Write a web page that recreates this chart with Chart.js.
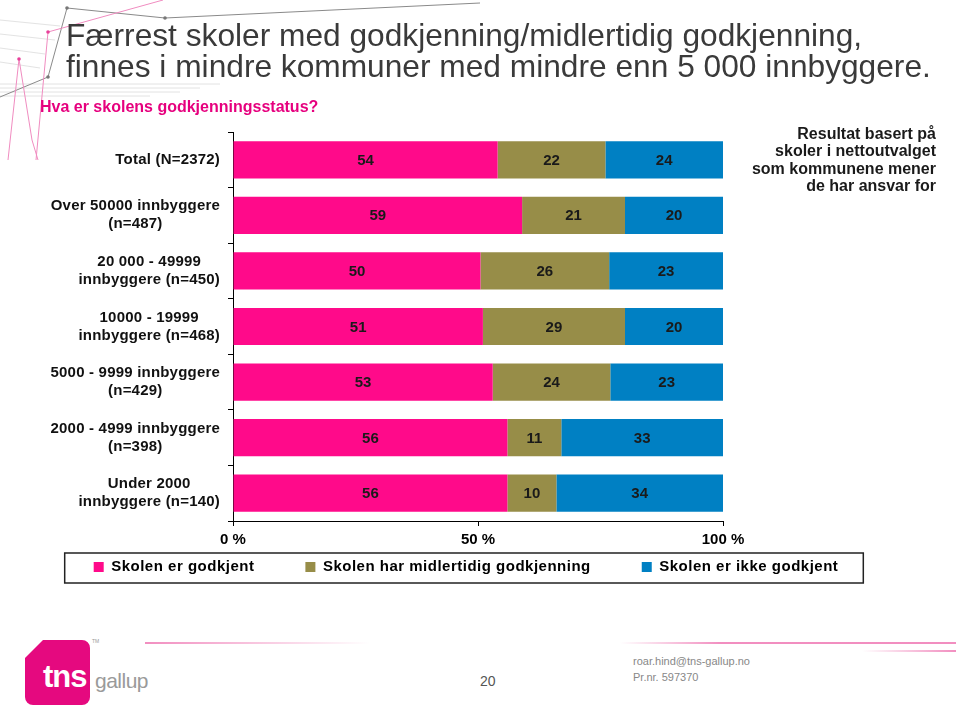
<!DOCTYPE html>
<html>
<head>
<meta charset="utf-8">
<script src="https://cdn.jsdelivr.net/npm/chart.js@4.4.1/dist/chart.umd.min.js"></script>
<style>
  html,body{margin:0;padding:0;background:#fff;}
  body{width:960px;height:710px;overflow:hidden;position:relative;font-family:Arial,"Liberation Sans",sans-serif;}
  #deco{position:absolute;left:0;top:0;z-index:0;}
  #chartBox{position:absolute;left:0;top:0;width:960px;height:630px;z-index:1;}
  .txt{position:absolute;z-index:2;white-space:nowrap;}
  #title{left:66px;top:20.4px;font-size:31.7px;line-height:31px;color:#3a3a3a;}
  #subtitle{left:40px;top:99px;font-size:16px;line-height:16px;font-weight:bold;color:#E6007E;}
  #note{right:24px;top:125px;font-size:16px;line-height:17.3px;font-weight:bold;color:#1a1a1a;text-align:right;}
  #page{left:480px;top:673px;font-size:14px;line-height:16px;color:#555;}
  #contact{left:633px;top:654px;font-size:11px;line-height:15.5px;color:#888;}
  #logo{position:absolute;left:25px;top:640px;width:65px;height:65px;background:#E5097F;z-index:2;
        border-radius:4px 8px 8px 8px;clip-path:polygon(18px 0,100% 0,100% 100%,0 100%,0 18px);}
  #tns{left:43px;top:660px;font-size:31px;line-height:34px;font-weight:bold;color:#fff;letter-spacing:-1px;}
  #gallup{left:95px;top:669px;font-size:21px;line-height:24px;color:#9a9a9a;letter-spacing:-0.5px;}
  #tm{left:92px;top:638px;font-size:5px;color:#999;}
  .pl{position:absolute;height:2px;z-index:0;}
</style>
</head>
<body>
<svg id="deco" width="480" height="160">
  <g stroke="#d8d8d8" stroke-width="1" opacity="0.7">
    <line x1="0" y1="84" x2="220" y2="84"/>
    <line x1="0" y1="88" x2="200" y2="88"/>
    <line x1="0" y1="92" x2="180" y2="92"/>
    <line x1="0" y1="96" x2="150" y2="96"/>
    <line x1="0" y1="20" x2="60" y2="26"/>
    <line x1="0" y1="34" x2="55" y2="40"/>
    <line x1="0" y1="48" x2="45" y2="54"/>
    <line x1="0" y1="62" x2="40" y2="68"/>
  </g>
  <polyline points="0,97 48,77 67,8 165,18 480,3" fill="none" stroke="#8a8a8a" stroke-width="1"/>
  <circle cx="67" cy="8" r="1.8" fill="#777"/>
  <circle cx="165" cy="18" r="1.8" fill="#777"/>
  <circle cx="48" cy="77" r="1.8" fill="#777"/>
  <g stroke="#f08cc0" stroke-width="1" fill="none">
    <polyline points="163,0 48,32 36,160"/>
    <polyline points="8,160 19,59 32,140 38,160"/>
  </g>
  <circle cx="48" cy="32" r="1.8" fill="#e8409a"/>
  <circle cx="19" cy="59" r="1.8" fill="#e8409a"/>
</svg>

<div id="chartBox"><canvas id="c" width="960" height="630"></canvas></div>

<div class="txt" id="title">Færrest skoler med godkjenning/midlertidig godkjenning,<br>finnes i mindre kommuner med mindre enn 5 000 innbyggere.</div>
<div class="txt" id="subtitle">Hva er skolens godkjenningsstatus?</div>
<div class="txt" id="note">Resultat basert på<br>skoler i nettoutvalget<br>som kommunene mener<br>de har ansvar for</div>

<div class="pl" style="left:145px;top:642px;width:225px;background:linear-gradient(to right,rgba(240,130,185,0.9),rgba(240,130,185,0));"></div>
<div class="pl" style="left:620px;top:642px;width:336px;background:linear-gradient(to right,rgba(240,130,185,0),rgba(240,130,185,0.9) 30%);"></div>
<div class="pl" style="left:862px;top:650px;width:94px;background:linear-gradient(to right,rgba(240,130,185,0),rgba(240,130,185,0.9));"></div>

<div id="logo"></div>
<div class="txt" id="tns">tns</div>
<div class="txt" id="gallup">gallup</div>
<div class="txt" id="tm">TM</div>
<div class="txt" id="page">20</div>
<div class="txt" id="contact">roar.hind@tns-gallup.no<br>Pr.nr. 597370</div>

<script>
// ---- data ----
const categories = [
  ["Total (N=2372)"],
  ["Over 50000 innbyggere", "(n=487)"],
  ["20 000 - 49999", "innbyggere (n=450)"],
  ["10000 - 19999", "innbyggere (n=468)"],
  ["5000 - 9999 innbyggere", "(n=429)"],
  ["2000 - 4999 innbyggere", "(n=398)"],
  ["Under 2000", "innbyggere (n=140)"]
];
const seriesNames = ["Skolen er godkjent", "Skolen har midlertidig godkjenning", "Skolen er ikke godkjent"];
const godkjent     = [54, 59, 50, 51, 53, 56, 56];
const midlertidig  = [22, 21, 26, 29, 24, 11, 10];
const ikkeGodkjent = [24, 20, 23, 20, 23, 33, 34];
const xTicks = [0, 50, 100];

const seriesValues = [godkjent, midlertidig, ikkeGodkjent];
const colors = ["#FF0A8A", "#978D48", "#0080C3"];
// 100% stacked: each row normalised to its own total
const rowTotals = categories.map((_, i) => seriesValues.reduce((s, arr) => s + arr[i], 0));
const shares = seriesValues.map(arr => arr.map((v, i) => v / rowTotals[i] * 100));

const FONT = 'Arial, "Liberation Sans", sans-serif';
Chart.defaults.font.family = FONT;

const LEGEND_PAD = 51;
const LEGEND_CENTER_Y = 567;

const valueLabels = {
  id: 'valueLabels',
  afterDatasetsDraw(chart) {
    const ctx = chart.ctx;
    ctx.save();
    ctx.font = 'bold 15px ' + FONT;
    ctx.fillStyle = '#1a1a1a';
    ctx.textAlign = 'center';
    ctx.textBaseline = 'middle';
    chart.data.datasets.forEach((ds, di) => {
      const meta = chart.getDatasetMeta(di);
      meta.data.forEach((bar, i) => {
        ctx.fillText(String(seriesValues[di][i]), (bar.x + bar.base) / 2, bar.y + 1);
      });
    });
    ctx.restore();
  }
};

const categoryLabels = {
  id: 'categoryLabels',
  afterDraw(chart) {
    const s = chart.scales.y;
    const ctx = chart.ctx;
    ctx.save();
    ctx.font = 'bold 15px ' + FONT;
    try { ctx.letterSpacing = '0.2px'; } catch (e) {}
    ctx.fillStyle = '#111';
    ctx.textAlign = 'center';
    ctx.textBaseline = 'middle';
    const right = s.right - 13;
    const lh = 18;
    chart.data.labels.forEach((lab, i) => {
      const lines = Array.isArray(lab) ? lab : [lab];
      const w = Math.max(...lines.map(l => ctx.measureText(l).width));
      const cx = right - w / 2;
      const y0 = s.getPixelForValue(i) - (lines.length - 1) * lh / 2;
      lines.forEach((l, k) => ctx.fillText(l, cx, y0 + k * lh));
    });
    try { ctx.letterSpacing = '0px'; } catch (e) {}
    ctx.restore();
  }
};

const legendTweaks = {
  id: 'legendTweaks',
  beforeLayout(chart) {
    try { chart.ctx.letterSpacing = '0.5px'; } catch (e) {}
  },
  afterLayout(chart) {
    try { chart.ctx.letterSpacing = '0px'; } catch (e) {}
    const lg = chart.legend;
    if (!lg) return;
    const h = lg.height;
    lg.top = LEGEND_CENTER_Y - LEGEND_PAD - 7.5;
    lg.bottom = lg.top + h;
    if (!lg._spacedDraw) {
      const orig = lg.draw.bind(lg);
      lg.draw = function () {
        const ctx = chart.ctx;
        try { ctx.letterSpacing = '0.5px'; } catch (e) {}
        orig();
        try { ctx.letterSpacing = '0px'; } catch (e) {}
      };
      lg._spacedDraw = true;
    }
  },
  afterDraw(chart) {
    const lg = chart.legend;
    if (!lg || !lg.legendHitBoxes || !lg.legendHitBoxes.length) return;
    const hb = lg.legendHitBoxes;
    const left = hb[0].left - 29;
    const last = hb[hb.length - 1];
    const right = last.left + last.width + 25;
    const cy = hb[0].top + hb[0].height / 2;
    const ctx = chart.ctx;
    ctx.save();
    ctx.strokeStyle = '#222';
    ctx.lineWidth = 1.5;
    ctx.strokeRect(left, cy - 14, right - left, 30);
    ctx.restore();
  }
};

new Chart(document.getElementById('c'), {
  type: 'bar',
  data: {
    labels: categories,
    datasets: seriesNames.map((name, k) => ({
      label: name,
      data: shares[k],
      backgroundColor: colors[k],
      borderWidth: 0,
      categoryPercentage: 1,
      barPercentage: 0.67
    }))
  },
  options: {
    indexAxis: 'y',
    responsive: false,
    animation: false,
    devicePixelRatio: 1,
    layout: { padding: { top: 132, right: 28, bottom: 0, left: 0 } },
    plugins: {
      legend: {
        position: 'bottom',
        labels: {
          boxWidth: 10,
          boxHeight: 10,
          padding: LEGEND_PAD,
          color: '#000',
          font: { size: 15, weight: 'bold', family: FONT }
        }
      },
      tooltip: { enabled: false }
    },
    scales: {
      x: {
        stacked: true,
        min: 0,
        max: 100,
        afterBuildTicks(s) { s.ticks = xTicks.map(v => ({ value: v })); },
        ticks: {
          padding: 5,
          color: '#000',
          font: { size: 15, weight: 'bold', family: FONT },
          callback: v => v + ' %'
        },
        grid: { drawOnChartArea: false, drawTicks: true, tickLength: 5, color: '#000' },
        border: { color: '#000', width: 1 }
      },
      y: {
        stacked: true,
        ticks: { display: false },
        grid: { drawOnChartArea: false, drawTicks: true, tickLength: 5, color: '#000', offset: true },
        border: { color: '#000', width: 1 },
        afterFit(s) { s.width = 233; }
      },
      yPad: {
        type: 'category',
        position: 'right',
        display: true,
        ticks: { display: false },
        grid: { display: false },
        border: { display: false },
        afterFit(s) { s.width = 209; }
      }
    }
  },
  plugins: [valueLabels, categoryLabels, legendTweaks]
});
</script>
</body>
</html>
